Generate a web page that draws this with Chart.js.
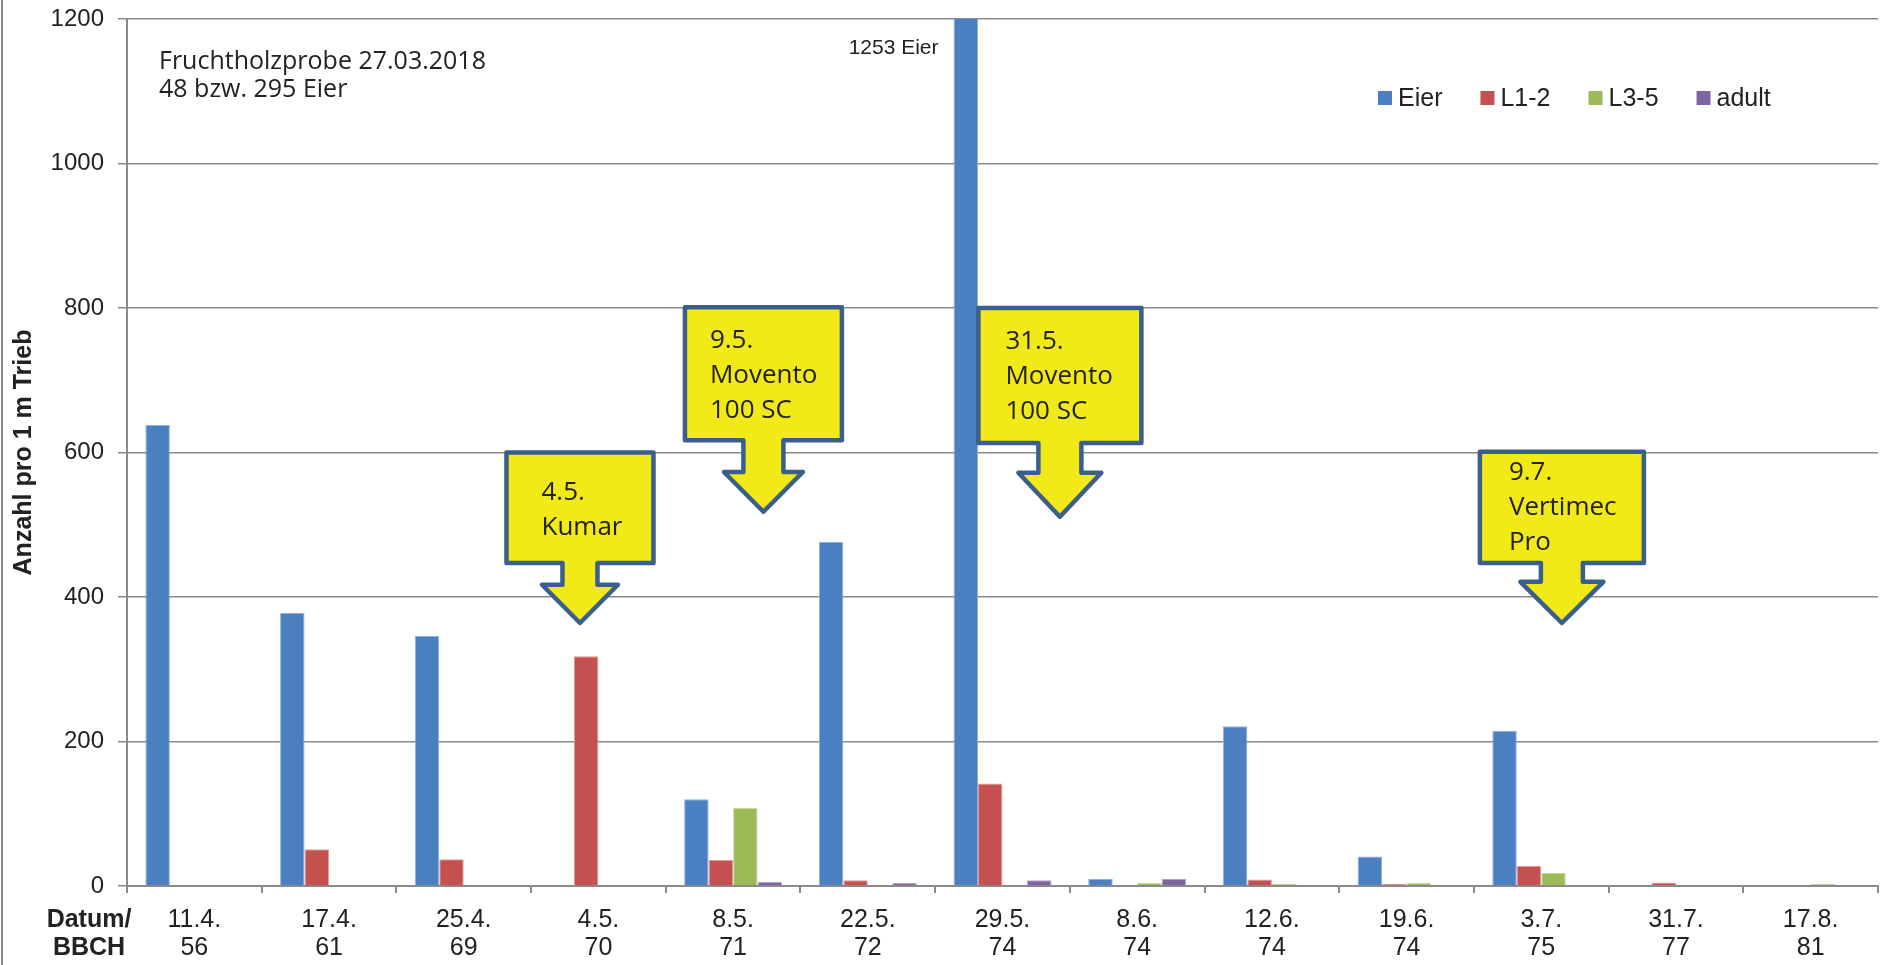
<!DOCTYPE html>
<html>
<head>
<meta charset="utf-8">
<script src="https://cdn.jsdelivr.net/npm/chart.js@4.4.1/dist/chart.umd.min.js"></script>
<style>
  html, body { margin: 0; padding: 0; background: #fff; }
  canvas { display: block; }
</style>
</head>
<body>
<canvas id="chart" width="1881" height="965"></canvas>
<script>
// sampling dates and BBCH stages
const dates = ['11.4.', '17.4.', '25.4.', '4.5.', '8.5.', '22.5.', '29.5.', '8.6.', '12.6.', '19.6.', '3.7.', '31.7.', '17.8.'];
const bbch  = ['56', '61', '69', '70', '71', '72', '74', '74', '74', '74', '75', '77', '81'];

// counts per 1 m shoot
const eier  = [638, 378, 346, 0, 120, 476, 1253, 10, 221, 41, 215, 0, 0];
const l12   = [1, 51, 37, 318, 36, 8, 142, 0, 9, 3, 28, 5, 0];
const l35   = [0, 0, 0, 0, 108, 0, 0, 4, 3, 4, 18, 0, 3];
const adult = [0, 0, 1, 0, 6, 4, 8, 10, 0, 0, 0, 0, 0];

const yMax = 1200;
const yStep = 200;

// spray applications, shown as arrow callouts (anchor in category units / y values)
const sprays = [
  { lines: ['4.5.', 'Kumar'],               at: 2.863,  top: 600, bottom: 447, head: 417, tip: 364, width: 147, stem: 35, headW: 76, padX: 35, firstLine: 40 },
  { lines: ['9.5.', 'Movento', '100 SC'],   at: 4.225,  top: 801, bottom: 617, head: 573, tip: 518, width: 157, stem: 40, headW: 79, padX: 25, firstLine: 33 },
  { lines: ['31.5.', 'Movento', '100 SC'],  at: 6.426,  top: 800, bottom: 613, head: 572, tip: 511, width: 163, stem: 43, headW: 83, padX: 27, firstLine: 34 },
  { lines: ['9.7.', 'Vertimec', 'Pro'],     at: 10.153, top: 601, bottom: 447, head: 421, tip: 364, width: 164, stem: 42, headW: 83, padX: 29, firstLine: 21 }
];

const sampleNote = ['Fruchtholzprobe 27.03.2018', '48 bzw. 295 Eier'];

const ARIAL = '"Liberation Sans", Arial, sans-serif';
const CALIBRI = '"Open Sans", "Noto Sans", sans-serif';
const TEXT = '#222';
const AXIS = '#8a8a8a';

const overlay = {
  id: 'overlay',
  beforeDraw(chart) {
    const { ctx, height } = chart;
    ctx.save();
    ctx.strokeStyle = AXIS;
    ctx.lineWidth = 2;
    ctx.beginPath();
    ctx.moveTo(2, 0);
    ctx.lineTo(2, height);
    ctx.stroke();
    ctx.restore();
  },
  afterDatasetsDraw(chart) {
    const { ctx, chartArea, scales: { x, y } } = chart;
    ctx.save();

    // note top left
    ctx.fillStyle = TEXT;
    ctx.font = '25px ' + CALIBRI;
    ctx.textAlign = 'left';
    ctx.textBaseline = 'middle';
    sampleNote.forEach((t, i) => ctx.fillText(t, chartArea.left + 32, chartArea.top + 43 + i * 28));

    // value of the clipped bar
    const meta = chart.getDatasetMeta(0);
    const big = meta.data[6];
    ctx.font = '21px ' + ARIAL;
    ctx.textAlign = 'right';
    ctx.fillText(eier[6] + ' Eier', big.x - big.width / 2 - 15, chartArea.top + 29);

    // legend
    let lx = 1378;
    const ly = chartArea.top + 79;
    ctx.font = '25px ' + ARIAL;
    ctx.textAlign = 'left';
    chart.data.datasets.forEach(ds => {
      ctx.fillStyle = ds.backgroundColor;
      ctx.fillRect(lx, ly - 7, 14, 14);
      ctx.fillStyle = TEXT;
      ctx.fillText(ds.label, lx + 20, ly + 1);
      lx += 20 + ctx.measureText(ds.label).width + 38;
    });

    // axis caption under y axis
    ctx.font = 'bold 25px ' + ARIAL;
    ctx.textAlign = 'center';
    const ty = x.top + 7 + 13 + 14;
    ctx.fillText('Datum/', 89, ty);
    ctx.fillText('BBCH', 89, ty + 28);

    // spray callouts
    sprays.forEach(s => {
      const cx = x.getPixelForValue(s.at);
      const T = y.getPixelForValue(s.top);
      const B = y.getPixelForValue(s.bottom);
      const H = y.getPixelForValue(s.head);
      const P = y.getPixelForValue(s.tip);
      const L = cx - s.width / 2, R = cx + s.width / 2;
      ctx.beginPath();
      ctx.moveTo(L, T);
      ctx.lineTo(R, T);
      ctx.lineTo(R, B);
      ctx.lineTo(cx + s.stem / 2, B);
      ctx.lineTo(cx + s.stem / 2, H);
      ctx.lineTo(cx + s.headW / 2, H);
      ctx.lineTo(cx, P);
      ctx.lineTo(cx - s.headW / 2, H);
      ctx.lineTo(cx - s.stem / 2, H);
      ctx.lineTo(cx - s.stem / 2, B);
      ctx.lineTo(L, B);
      ctx.closePath();
      ctx.fillStyle = '#f2e918';
      ctx.fill();
      ctx.lineWidth = 4.5;
      ctx.lineJoin = 'round';
      ctx.strokeStyle = '#3a5f8b';
      ctx.stroke();

      ctx.fillStyle = TEXT;
      ctx.font = '26px ' + CALIBRI;
      ctx.textAlign = 'left';
      s.lines.forEach((t, i) => ctx.fillText(t, L + s.padX, T + s.firstLine + i * 35));
    });

    ctx.restore();
  }
};

const bar = (label, data, fill, edge) => ({
  label, data,
  backgroundColor: fill,
  borderColor: edge,
  borderWidth: 1,
  categoryPercentage: 0.727,
  barPercentage: 1
});

new Chart(document.getElementById('chart'), {
  type: 'bar',
  data: {
    labels: dates.map((d, i) => [d, bbch[i]]),
    datasets: [
      bar('Eier',  eier,  '#4a7fc1', '#8fb0da'),
      bar('L1-2',  l12,   '#c4504f', '#e09a98'),
      bar('L3-5',  l35,   '#9bbb59', '#c6da9e'),
      bar('adult', adult, '#8064a2', '#b5a4cb')
    ]
  },
  options: {
    responsive: false,
    animation: false,
    devicePixelRatio: 1,
    layout: { padding: { top: 19, right: 3, left: 0, bottom: 0 } },
    plugins: { legend: { display: false }, tooltip: { enabled: false } },
    scales: {
      x: {
        grid: { drawOnChartArea: false, drawTicks: true, tickLength: 7, color: AXIS, lineWidth: 2, offset: true },
        border: { display: true, color: AXIS, width: 2 },
        ticks: {
          font: { family: ARIAL, size: 25, lineHeight: 28 / 25 },
          color: TEXT, padding: 13, maxRotation: 0, autoSkip: false
        },
        afterFit: s => { s.height = 79; s.paddingLeft = 0; s.paddingRight = 0; }
      },
      y: {
        min: 0, max: yMax,
        ticks: { stepSize: yStep, font: { family: ARIAL, size: 24 }, color: TEXT, padding: 14, callback: v => String(v) },
        grid: { color: AXIS, lineWidth: 1.5, tickLength: 9 },
        border: { display: true, color: AXIS, width: 2 },
        title: {
          display: true, text: 'Anzahl pro 1 m Trieb', color: TEXT,
          font: { family: ARIAL, size: 25, weight: 'bold' }, padding: { top: 9, bottom: 0 }
        },
        afterFit: s => { s.width = 127; s.paddingTop = 0; s.paddingBottom = 0; }
      }
    }
  },
  plugins: [overlay]
});
</script>
</body>
</html>
